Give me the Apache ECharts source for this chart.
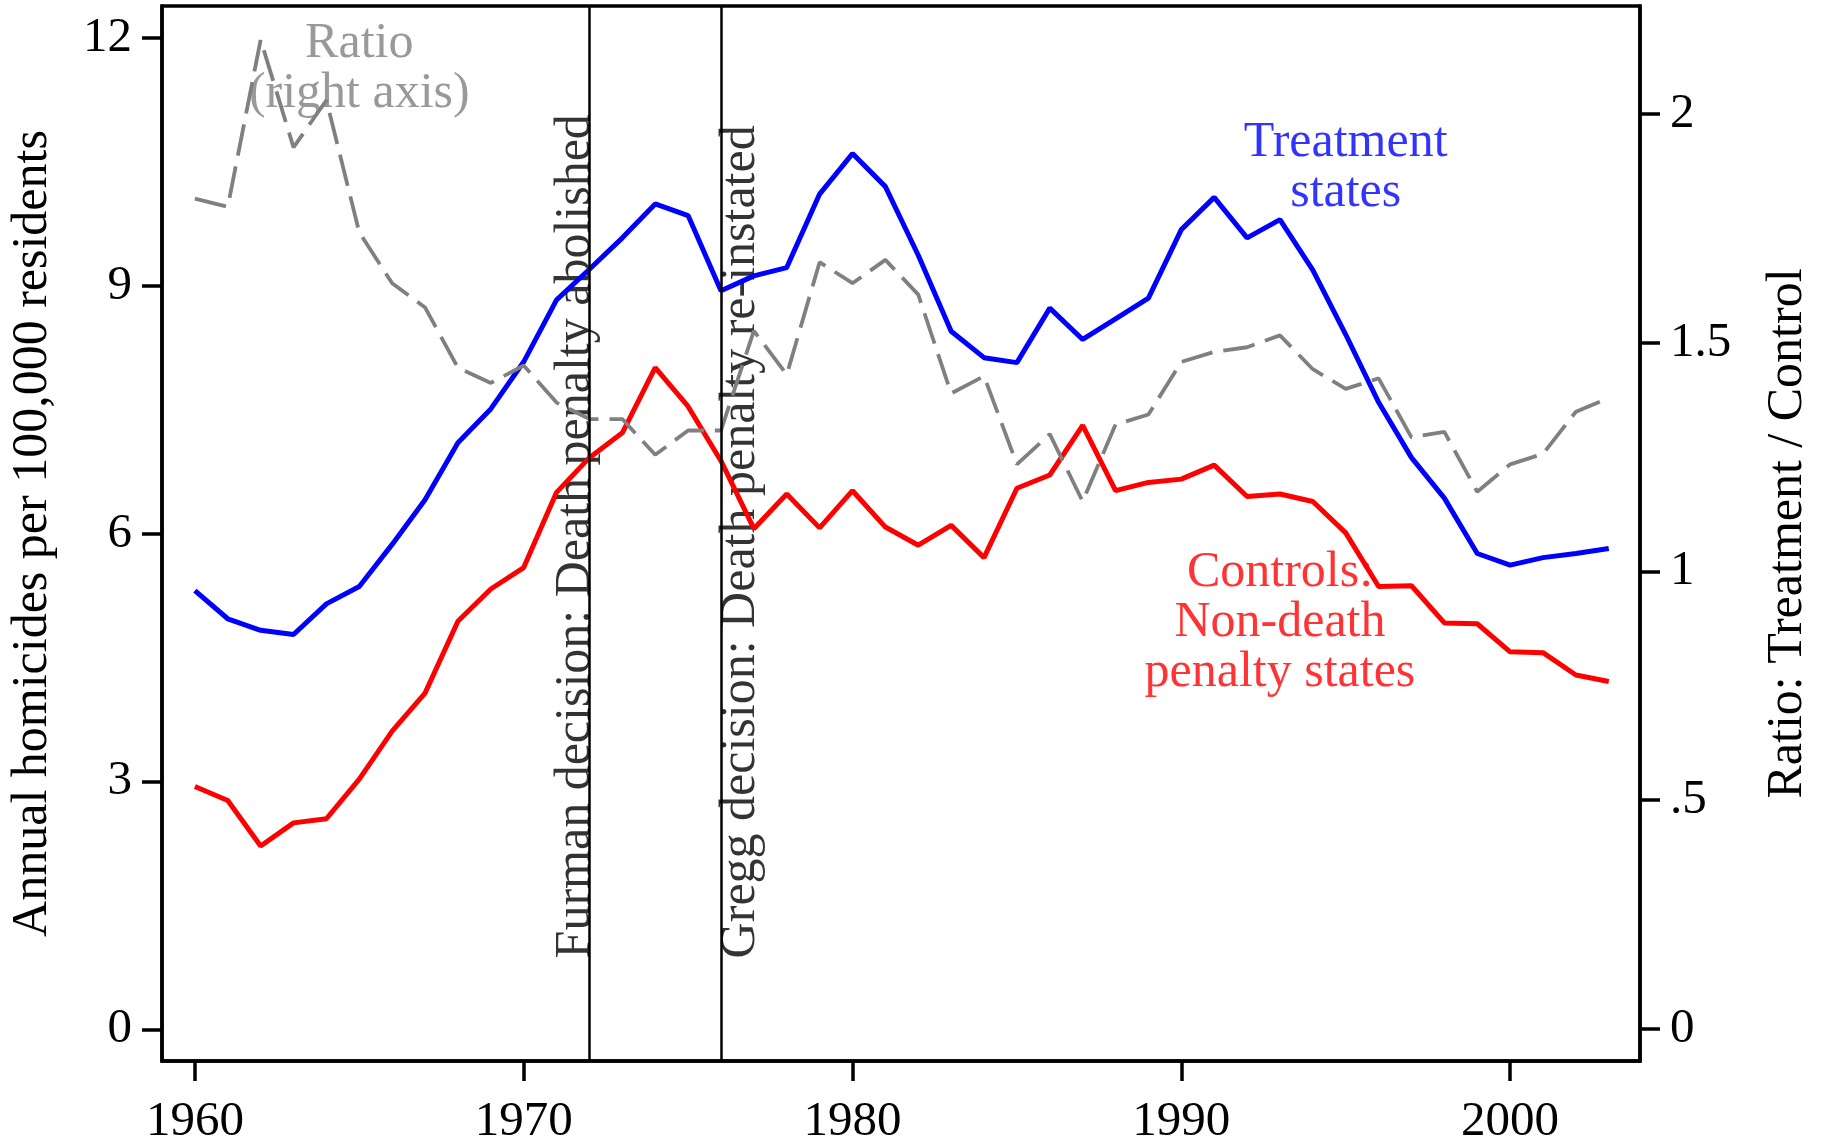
<!DOCTYPE html>
<html>
<head>
<meta charset="utf-8">
<script src="https://cdn.jsdelivr.net/npm/echarts@6/dist/echarts.min.js"></script>
<style>
html,body{margin:0;padding:0;background:#fff;}
#chart{width:1821px;height:1147px;}
</style>
</head>
<body>
<div id="chart"></div>
<script>
// ---------- data ----------
const years = [1960,1961,1962,1963,1964,1965,1966,1967,1968,1969,
               1970,1971,1972,1973,1974,1975,1976,1977,1978,1979,
               1980,1981,1982,1983,1984,1985,1986,1987,1988,1989,
               1990,1991,1992,1993,1994,1995,1996,1997,1998,1999,
               2000,2001,2002,2003];
const treatment = [5.31,4.97,4.83,4.78,5.15,5.36,5.87,6.41,7.10,7.51,
                   8.08,8.83,9.20,9.58,9.99,9.85,8.94,9.12,9.22,10.11,
                   10.60,10.20,9.37,8.45,8.13,8.07,8.73,8.35,8.60,8.85,
                   9.68,10.07,9.58,9.80,9.19,8.41,7.59,6.92,6.43,5.76,
                   5.62,5.71,5.76,5.82];
const controls = [2.94,2.77,2.22,2.50,2.55,3.03,3.61,4.07,4.94,5.33,
                  5.59,6.50,6.92,7.22,8.01,7.54,6.88,6.06,6.48,6.07,
                  6.52,6.08,5.86,6.10,5.71,6.55,6.71,7.31,6.52,6.62,
                  6.66,6.83,6.45,6.48,6.39,6.01,5.36,5.37,4.92,4.91,
                  4.57,4.56,4.29,4.21];
const ratio = [1.815,1.797,2.162,1.927,2.030,1.741,1.630,1.577,1.445,1.412,
               1.450,1.369,1.333,1.333,1.255,1.308,1.308,1.526,1.430,1.676,
               1.630,1.681,1.605,1.389,1.427,1.234,1.300,1.153,1.321,1.343,
               1.458,1.480,1.490,1.516,1.442,1.399,1.422,1.293,1.305,1.174,
               1.234,1.257,1.349,1.379];
const xTicks = [1960,1970,1980,1990,2000];
const leftTicks = [0,3,6,9,12];
const rightTicks = [0,0.5,1,1.5,2];
const eventYears = [1972,1976];
const eventLabels = ['Furman decision: Death penalty abolished',
                     'Gregg decision: Death penalty re-instated'];

// ---------- chart ----------
const FONT = '"Liberation Serif", "Times New Roman", serif';
const BLUE = '#0000ff', RED = '#ff0000', GRAY = '#808080';
const pairs = arr => years.map((y,i)=>[y, arr[i]]);

const annotations = [
  {value:[1995,10.43], text:'Treatment\nstates', color:BLUE},
  {value:[1993,4.92], text:'Controls:\nNon-death\npenalty states', color:RED},
  {value:[1965,11.62], text:'Ratio\n(right axis)', color:GRAY}
];

const chart = echarts.init(document.getElementById('chart'), null, {renderer:'canvas'});
const lineStyleAxis = {show:true, onZero:false, lineStyle:{color:'#000', width:3.5}};
const tickStyle = {show:true, inside:false, length:20, lineStyle:{color:'#000', width:3.5}};
const labelStyle = {fontFamily:FONT, fontSize:49, color:'#000'};

chart.setOption({
  backgroundColor:'#fff',
  animation:false,
  grid:{left:162, right:181, top:6, bottom:82, show:true, borderColor:'#000', borderWidth:3.5, backgroundColor:'transparent'},
  xAxis:{
    type:'value', min:1959, max:2003.95, position:'bottom',
    axisLine:lineStyleAxis,
    axisTick:Object.assign({customValues:xTicks}, tickStyle),
    axisLabel:Object.assign({customValues:xTicks, margin:37, formatter:v => String(v)}, labelStyle),
    splitLine:{show:false}
  },
  yAxis:[{
    type:'value', min:-0.382, max:12.386, position:'left',
    axisLine:lineStyleAxis,
    axisTick:Object.assign({customValues:leftTicks}, tickStyle),
    axisLabel:Object.assign({customValues:leftTicks, margin:30, formatter:v => String(v)}, labelStyle),
    splitLine:{show:false},
    name:'Annual homicides per 100,000 residents',
    nameLocation:'middle', nameGap:104,
    nameTextStyle:{fontFamily:FONT, fontSize:50, color:'#000'}
  },{
    type:'value', min:-0.0703, max:2.236, position:'right',
    axisLine:lineStyleAxis,
    axisTick:Object.assign({customValues:rightTicks}, tickStyle),
    axisLabel:Object.assign({customValues:rightTicks, margin:30,
      formatter:v => (v === 0.5 ? '.5' : String(v))}, labelStyle),
    splitLine:{show:false},
    name:'Ratio: Treatment / Control',
    nameLocation:'middle', nameGap:123,
    nameTextStyle:{fontFamily:FONT, fontSize:50, color:'#000'}
  }],
  series:[
    {
      name:'Events', type:'scatter', yAxisIndex:0, silent:true, z:1,
      symbolSize:0,
      data:[
        {value:[eventYears[0],0.86], label:{formatter:eventLabels[0], offset:[0,-14]}},
        {value:[eventYears[1],0.86], label:{formatter:eventLabels[1], offset:[0,20]}}
      ],
      label:{show:true, position:'inside', rotate:90, align:'left', verticalAlign:'middle',
             fontFamily:FONT, fontSize:50, color:'#000'},
      markLine:{
        silent:true, symbol:['none','none'],
        lineStyle:{color:'#000', width:2.5, type:'solid'},
        label:{show:false},
        data:eventYears.map(y=>({xAxis:y}))
      }
    },
    {name:'Treatment states', type:'line', yAxisIndex:0, data:pairs(treatment),
     showSymbol:false, z:3, lineStyle:{color:BLUE, width:5}, itemStyle:{color:BLUE}},
    {name:'Controls', type:'line', yAxisIndex:0, data:pairs(controls),
     showSymbol:false, z:3, lineStyle:{color:RED, width:5}, itemStyle:{color:RED}},
    {name:'Ratio', type:'line', yAxisIndex:1, data:pairs(ratio),
     showSymbol:false, z:4, lineStyle:{color:GRAY, width:3.8, type:[32,11]}, itemStyle:{color:GRAY}},
    {
      name:'Annotations', type:'scatter', yAxisIndex:0, silent:true, z:2,
      symbolSize:0,
      data:annotations.map(a=>({value:a.value, label:{formatter:a.text, color:a.color}})),
      label:{show:true, position:'inside', align:'center', verticalAlign:'middle',
             fontFamily:FONT, fontSize:50, lineHeight:50}
    }
  ]
});
</script>
</body>
</html>
